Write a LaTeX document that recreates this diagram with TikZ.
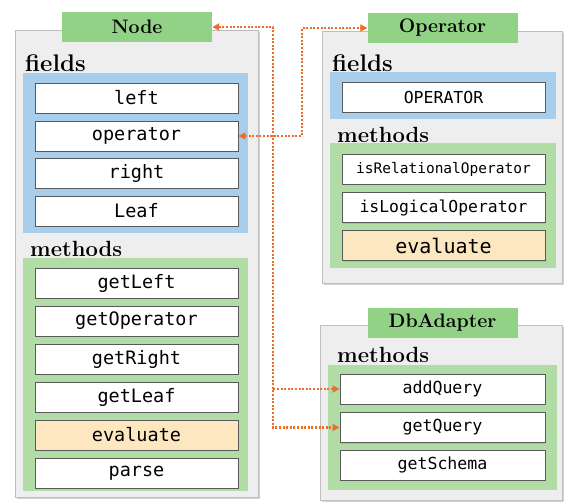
\documentclass[tikz,border=0pt]{standalone}
\usepackage{fontspec}
\setmonofont{DejaVu Sans Mono}
\usetikzlibrary{arrows.meta,shadows}

\definecolor{panelgray}{RGB}{238,238,238}
\definecolor{panelline}{RGB}{190,190,190}
\definecolor{fieldblue}{RGB}{168,206,236}
\definecolor{methodgreen}{RGB}{178,220,166}
\definecolor{titlegreen}{RGB}{146,210,134}
\definecolor{evalorange}{RGB}{253,231,192}
\definecolor{linkorange}{RGB}{236,110,45}

\newcommand{\monosize}[1]{\ttfamily\fontsize{#1}{#1}\selectfont}

\begin{document}
\begin{tikzpicture}[x=1pt,y=-1pt,
	classpanel/.style={fill=panelgray,draw=panelline,line width=0.8pt,
		drop shadow={shadow xshift=2pt,shadow yshift=-2pt,opacity=0.35}},
	fieldpanel/.style={fill=fieldblue},
	methodpanel/.style={fill=methodgreen},
	classtitle/.style={fill=titlegreen,minimum width=150pt,minimum height=30pt,
		inner sep=0pt,font=\bfseries\fontsize{19.5}{19.5}\selectfont},
	grouplabel/.style={anchor=base west,inner sep=0pt,font=\bfseries\fontsize{22}{22}\selectfont},
	member/.style={draw=black!65,fill=white,line width=0.8pt,minimum width=203pt,
		minimum height=30pt,inner sep=0pt,font=\monosize{18.5},
		drop shadow={shadow xshift=1pt,shadow yshift=-1pt,opacity=0.25}},
	hilite/.style={member,fill=evalorange},
	link/.style={draw=linkorange,line width=2.4pt,dash pattern=on 2pt off 1.6pt,
		{Triangle[length=7pt,width=7pt]}-{Triangle[length=7pt,width=7pt]}}]

	\useasboundingbox (0,0) rectangle (565,503);

	% Node
	\draw[classpanel] (15,30) rectangle (258,497);
	\fill[fieldpanel] (23,73) rectangle (248,233);
	\fill[methodpanel] (23,258) rectangle (248,491);
	\node[classtitle] (tNode) at (137,27) {Node};
	\node[grouplabel,font=\bfseries\fontsize{24}{24}\selectfont] (gNodeFields) at (25,72) {fields};
	\node[grouplabel] (gNodeMethods) at (30,256) {methods};
	\node[member] (fLeft) at (136.5,98) {left};
	\node[member] (fOperator) at (136.5,136) {operator};
	\node[member] (fRight) at (136.5,173) {right};
	\node[member] (fLeaf) at (136.5,211) {Leaf};
	\node[member] (mGetLeft) at (136.5,283) {getLeft};
	\node[member] (mGetOperator) at (136.5,321) {getOperator};
	\node[member] (mGetRight) at (136.5,359) {getRight};
	\node[member] (mGetLeaf) at (136.5,397) {getLeaf};
	\node[hilite] (mEvaluate) at (136.5,435) {evaluate};
	\node[member] (mParse) at (136.5,473) {parse};

	% Operator
	\draw[classpanel] (322,31) rectangle (562,283);
	\fill[fieldpanel] (330,72) rectangle (556,119);
	\fill[methodpanel] (330,143) rectangle (556,268);
	\node[classtitle] (tOperator) at (442.5,28) {Operator};
	\node[grouplabel,font=\bfseries\fontsize{24}{24}\selectfont] (gOpFields) at (332,72) {fields};
	\node[grouplabel] (gOpMethods) at (337,142) {methods};
	\node[member,font=\monosize{16.5}] (fOpConst) at (443.5,97) {OPERATOR};
	\node[member,font=\monosize{14.5}] (mIsRelational) at (443.5,169) {isRelationalOperator};
	\node[member,font=\monosize{16.4}] (mIsLogical) at (443.5,207.5) {isLogicalOperator};
	\node[hilite,font=\monosize{20}] (mOpEvaluate) at (443.5,245.5) {evaluate};

	% DbAdapter
	\draw[classpanel] (320,325) rectangle (562,500);
	\fill[methodpanel] (328,365) rectangle (557,490);
	\node[classtitle] (tDbAdapter) at (442.5,323) {DbAdapter};
	\node[grouplabel] (gDbMethods) at (337,362) {methods};
	\node[member,font=\monosize{16.6},minimum width=205pt] (mAddQuery) at (442.5,389) {addQuery};
	\node[member,font=\monosize{16.6},minimum width=205pt] (mGetQuery) at (442.5,427.5) {getQuery};
	\node[member,font=\monosize{16.6},minimum width=205pt] (mGetSchema) at (442.5,465) {getSchema};

	% links
	\coordinate (bendDb) at (273,0);
	\coordinate (bendOp) at (302,0);
	\draw[link] (tNode.east) -| (bendDb |- mGetQuery.west) -- (mGetQuery.west);
	\draw[link,{Triangle[length=7pt,width=7pt]}-] (mAddQuery.west) -- (bendDb |- mAddQuery.west);
	\draw[link] (fOperator.east) -- (bendOp |- fOperator.east) |- (tOperator.west);
\end{tikzpicture}
\end{document}
